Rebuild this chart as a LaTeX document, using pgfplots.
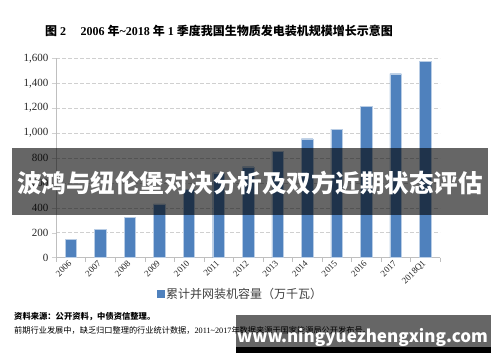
\documentclass[border=0pt]{standalone}
\usepackage{fontspec}
\setmainfont{Liberation Serif}
\newfontfamily\cjk{Noto Sans CJK SC}
\usepackage{pgfplots}
\usepackage{pgfplotstable}
\pgfplotsset{compat=1.18}
\definecolor{barblue}{HTML}{4F81BD}
\definecolor{baredge}{HTML}{B9CDE5}
\definecolor{gridgray}{HTML}{D0D0D0}
\definecolor{axisgray}{HTML}{BFBFBF}

\pgfplotstableread{
x val
0 146
1 226
2 320
3 430
4 548
5 681
6 729
7 850
8 954
9 1032
10 1214
11 1476
12 1576
}\datatable

\begin{document}
\begin{tikzpicture}[x=1pt,y=1pt]
\useasboundingbox[fill=white] (0,0) rectangle (500,362);
\node[anchor=west, inner sep=0] at (45,331) {\fontsize{12}{12}\selectfont\bfseries{\cjk 图} 2\hspace{1.2em}2006 {\cjk 年}\textasciitilde 2018 {\cjk 年} 1 {\cjk 季度我国生物质发电装机规模增长示意图}};

\begin{axis}[
  at={(56pt,104.5pt)}, anchor=south west, scale only axis,
  width=384pt, height=199.2pt,
  ybar, bar width=11.5pt,
  xmin=-0.5, xmax=12.5, ymin=0, ymax=1600,
  axis x line*=bottom, axis y line*=left,
  axis line style={axisgray},
  tick align=outside,
  xtick={0,...,12},
  xticklabels={2006,2007,2008,2009,2010,2011,2012,2013,2014,2015,2016,2017,2018Q1},
  major x tick style={draw=none},
  minor xtick={-0.5,0.5,...,12.5},
  minor x tick style={axisgray},
  minor tick length=4pt,
  major tick length=4pt,
  ytick={0,200,...,1600},
  major y tick style={gridgray},
  ymajorgrids, grid style={gridgray, dash pattern=on 4pt off 2pt},
  /pgf/number format/.cd, 1000 sep={,}, assume math mode=true,
  /pgfplots/.cd,
  yticklabel style={font=\fontsize{11}{11}\selectfont, text=black!85},
  xticklabel style={rotate=45, anchor=east, font=\fontsize{9}{9}\selectfont, text=black!85, inner sep=1pt},
  legend style={at={(0.263,-0.183)}, anchor=west, draw=none, fill=none,
    font=\cjk\fontsize{12}{12}\selectfont, inner sep=0pt, text=black!75},
  legend image code/.code={\fill[barblue] (0pt,-3.3pt) rectangle (6.5pt,3.3pt);},
]
\addplot[fill=barblue, draw=baredge, line width=0.4pt] table[x=x,y=val] {\datatable};
\addlegendentry{累计并网装机容量（万千瓦）}
\end{axis}

\node[anchor=west, inner sep=0] at (14,45.3) {\cjk\bfseries\fontsize{8.3}{8.3}\selectfont 资料来源：公开资料，中债资信整理。};
\node[anchor=west, inner sep=0] at (14,31.3) {\fontsize{8.2}{8.2}\selectfont{\cjk 前期行业发展中，缺乏归口整理的行业统计数据，}2011\textasciitilde 2017{\cjk 年数据来源于国家能源局公开发布号。}};

\fill[black, opacity=0.6] (12,147) rectangle (488,213.7);
\node[text=white, inner sep=0] at (250,179) {\cjk\bfseries\fontsize{24.5}{24.5}\selectfont 波鸿与纽伦堡对决分析及双方近期状态评估};

\fill[black, opacity=0.6] (236,15.3) rectangle (491,47);
\fill[black] (236,9.3) rectangle (491,15.3);
\node[text=white, inner sep=0] at (362.5,25) {\cjk\bfseries\fontsize{17}{17}\selectfont www.ningyuezhengxing.com};
\end{tikzpicture}
\end{document}
